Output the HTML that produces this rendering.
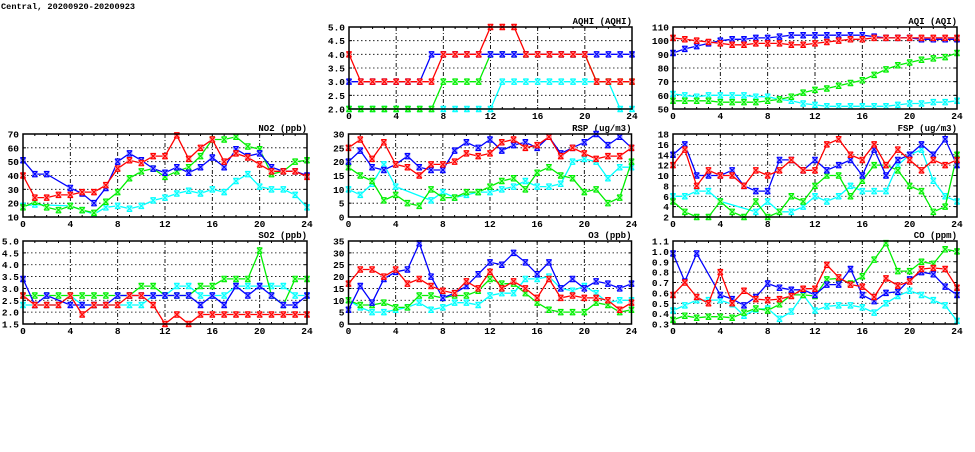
<!DOCTYPE html>
<html><head><meta charset="utf-8"><style>
body{margin:0;background:#fff;width:975px;height:447px;overflow:hidden}
svg text{font-family:"Liberation Mono","DejaVu Sans Mono",monospace;font-weight:bold;fill:#000}
</style></head><body>
<svg id="s" width="975" height="447" xmlns="http://www.w3.org/2000/svg">
<text x="1" y="9" font-size="8.6">Central, 20200920-20200923</text>
</svg>
<script>
const N=null;
const P=[
 {x:349,y:27,w:283,h:82,min:2,max:5,step:0.5,dec:1,title:"AQHI (AQHI)",s:[
  [2,2,2,2,2,2,2,2,2,2,2,2,2,3,3,3,3,3,3,3,3,3,3,2,2],
  [2,2,2,2,2,2,2,2,3,3,3,3,4,4,4,4,4,4,4,4,4,3,3,3,3],
  [3,3,3,3,3,3,3,4,4,4,4,4,4,4,4,4,4,4,4,4,4,4,4,4,4],
  [4,3,3,3,3,3,3,3,4,4,4,4,5,5,5,4,4,4,4,4,4,3,3,3,3]]},
 {x:673,y:27,w:284,h:82,min:50,max:110,step:10,dec:0,title:"AQI (AQI)",s:[
  [61,60,59,60,60,60,60,59,59,57,56,54,53,52,52,52,52,52,52,53,54,54,55,55,56],
  [56,56,56,56,55,55,55,55,56,57,59,62,64,65,67,69,71,75,79,82,84,86,87,88,91],
  [91,94,96,98,100,101,101,102,102,103,104,104,104,104,104,104,104,103,102,102,102,101,101,101,101],
  [102,101,100,99,98,97,97,98,98,98,97,97,98,99,100,101,101,102,102,102,102,102,102,102,102]]},
 {x:23,y:134,w:284,h:83,min:10,max:70,step:10,dec:0,title:"NO2 (ppb)",s:[
  [18,19,N,N,18,15,12,17,18,16,18,22,24,27,29,27,30,28,36,41,32,30,30,26,17],
  [17,21,17,15,18,15,13,21,28,38,43,45,39,43,46,54,66,66,68,61,59,41,43,50,51],
  [51,41,41,N,31,27,20,31,50,56,51,45,42,46,42,46,53,46,59,54,56,46,43,43,40],
  [40,24,24,26,26,28,28,33,45,51,49,54,54,69,52,60,66,50,56,53,48,43,43,43,39]]},
 {x:348.5,y:134,w:283,h:83,min:0,max:30,step:5,dec:0,title:"RSP (ug/m3)",s:[
  [10,8,12,19,11,N,N,6,9,7,8,9,9,10,11,13,11,11,12,20,21,20,14,18,18],
  [18,15,13,6,8,5,4,10,7,7,9,9,11,13,14,10,16,18,15,14,9,10,5,7,20],
  [20,24,18,17,19,22,18,17,17,24,27,25,28,24,26,27,25,29,23,25,27,30,26,29,25],
  [25,28,21,27,19,18,15,19,19,20,23,22,23,27,28,25,26,29,22,25,23,21,22,22,25]]},
 {x:673,y:134,w:284,h:83,min:2,max:18,step:2,dec:0,title:"FSP (ug/m3)",s:[
  [6,6,7,7,5,N,N,3,5,3,3,4,6,5,6,8,7,7,7,12,14,15,9,6,5],
  [5,3,2,2,5,3,2,5,2,3,6,5,8,10,10,6,9,12,12,11,8,7,3,4,14],
  [14,16,10,10,10,11,8,7,7,13,13,11,13,11,12,13,10,15,10,13,14,16,14,17,12],
  [12,15,8,11,10,10,8,11,10,11,13,11,11,16,17,14,13,16,12,15,13,11,13,12,13]]},
 {x:23,y:241,w:284,h:83,min:1.5,max:5,step:0.5,dec:1,title:"SO2 (ppb)",s:[
  [2.3,2.3,2.3,2.3,2.7,2.3,2.3,2.3,2.3,2.3,2.3,2.7,2.7,3.1,3.1,2.7,2.7,2.7,3.1,3.1,3.1,3.1,3.1,2.7,2.7],
  [2.7,2.7,2.7,2.7,2.7,2.7,2.7,2.7,2.7,2.7,3.1,3.1,2.7,2.7,2.7,3.1,3.1,3.4,3.4,3.4,4.6,2.7,2.3,3.4,3.4],
  [3.4,2.3,2.7,N,2.3,2.3,2.3,2.3,2.7,2.7,2.7,2.7,2.7,2.7,2.7,2.3,2.7,2.3,3.1,2.7,3.1,2.7,2.3,2.3,2.7],
  [2.7,2.3,2.3,2.3,2.7,1.9,2.3,2.3,2.3,2.7,2.7,2.3,1.5,1.9,1.5,1.9,1.9,1.9,1.9,1.9,1.9,1.9,1.9,1.9,1.9]]},
 {x:348.5,y:241,w:283,h:83,min:0,max:35,step:5,dec:0,title:"O3 (ppb)",s:[
  [10,7,5,5,6,7,9,6,7,9,9,8,12,13,13,19,19,20,15,14,16,13,9,10,10],
  [10,8,8,9,7,7,12,12,11,12,12,14,19,17,17,13,9,6,5,5,5,9,8,5,6],
  [6,16,9,19,22,23,34,20,11,13,16,21,26,25,30,26,21,26,15,19,15,18,17,15,17],
  [17,23,23,20,23,17,19,16,14,13,18,15,22,15,18,15,11,19,11,12,11,11,10,6,9]]},
 {x:673,y:241,w:284,h:83,min:0.3,max:1.1,step:0.1,dec:1,title:"CO (ppm)",s:[
  [.43,.48,.53,.53,.53,.49,.38,.44,.45,.35,.42,.58,.43,.47,.48,.48,.46,.41,.50,.57,.62,.58,.53,.48,.33],
  [.34,.38,.36,.37,.37,.36,.41,.45,.43,.49,.58,.58,.57,.73,.74,.69,.76,.92,1.08,.81,.81,.90,.88,1.02,1.00],
  [.98,.71,.98,N,.58,.54,.48,.56,.69,.65,.63,.63,.58,.68,.68,.83,.58,.52,.60,.61,.73,.80,.78,.66,.58],
  [.58,.70,.56,.50,.80,.50,.62,.54,.53,.54,.57,.64,.64,.87,.75,.68,.66,.56,.74,.67,.71,.83,.84,.83,.65]]}
];
const C=["#00ffff","#00ee00","#0000ff","#ff0000"],L=["#aaffff","#aaffaa","#9999ff","#ff9999"];
let o="";
for(const p of P){
 const X=i=>p.x+p.w*i/24,Y=v=>p.y+p.h*(p.max-v)/(p.max-p.min);
 const n=Math.round((p.max-p.min)/p.step);
 for(let k=0;k<=n;k++){const v=p.min+k*p.step,y=Y(v);
  if(k>0&&k<n)o+=`<line x1="${p.x}" x2="${p.x+p.w}" y1="${y}" y2="${y}" stroke="#000" stroke-width="0.8" stroke-dasharray="1.5,2.5"/>`;
  o+=`<line x1="${p.x}" x2="${p.x+3}" y1="${y}" y2="${y}" stroke="#000"/><line x1="${p.x+p.w-3}" x2="${p.x+p.w}" y1="${y}" y2="${y}" stroke="#000"/>`;
  o+=`<text x="${p.x-4}" y="${y+3.5}" font-size="9.5" text-anchor="end">${v.toFixed(p.dec)}</text>`;}
 for(let i=0;i<=24;i+=4){const x=X(i);
  if(i>0&&i<24)o+=`<line x1="${x}" x2="${x}" y1="${p.y}" y2="${p.y+p.h}" stroke="#000" stroke-width="0.9" stroke-dasharray="4,2,1,2"/>`;
  o+=`<text x="${x}" y="${p.y+p.h+10}" font-size="9.5" text-anchor="middle">${i}</text>`;}
 for(let i=1;i<24;i++){const x=X(i);o+=`<line x1="${x}" x2="${x}" y1="${p.y+p.h}" y2="${p.y+p.h-2}" stroke="#000"/><line x1="${x}" x2="${x}" y1="${p.y}" y2="${p.y+2}" stroke="#000"/>`;}
 o+=`<text x="${p.x+p.w}" y="${p.y-3}" font-size="9" text-anchor="end">${p.title}</text>`;
 o+=`<svg x="${p.x}" y="${p.y-4}" width="${p.w}" height="${p.h+8}" overflow="visible"><g transform="translate(${-p.x},${-(p.y-4)})">`;
 p.s.forEach((d,si)=>{let pts=[];d.forEach((v,i)=>{if(v!==null)pts.push(X(i).toFixed(1)+","+Y(v).toFixed(1))});
  o+=`<polyline points="${pts.join(" ")}" fill="none" stroke="${C[si]}" stroke-width="1.3"/>`;
  d.forEach((v,i)=>{if(v===null)return;const x=X(i),y=Y(v),r=2.7;
   o+=`<rect x="${x-r}" y="${y-r}" width="${2*r}" height="${2*r}" fill="${L[si]}"/><path d="M${x-r} ${y-r}L${x+r} ${y+r}M${x-r} ${y+r}L${x+r} ${y-r}M${x-r} ${y-r}H${x+r}M${x-r} ${y+r}H${x+r}" stroke="${C[si]}" stroke-width="1.1"/>`;});
 });
 o+=`</g></svg>`;
 o+=`<rect x="${p.x}" y="${p.y}" width="${p.w}" height="${p.h}" fill="none" stroke="#000" stroke-width="1.5"/>`;
}
document.getElementById("s").insertAdjacentHTML("beforeend",o);
</script>
</body></html>
